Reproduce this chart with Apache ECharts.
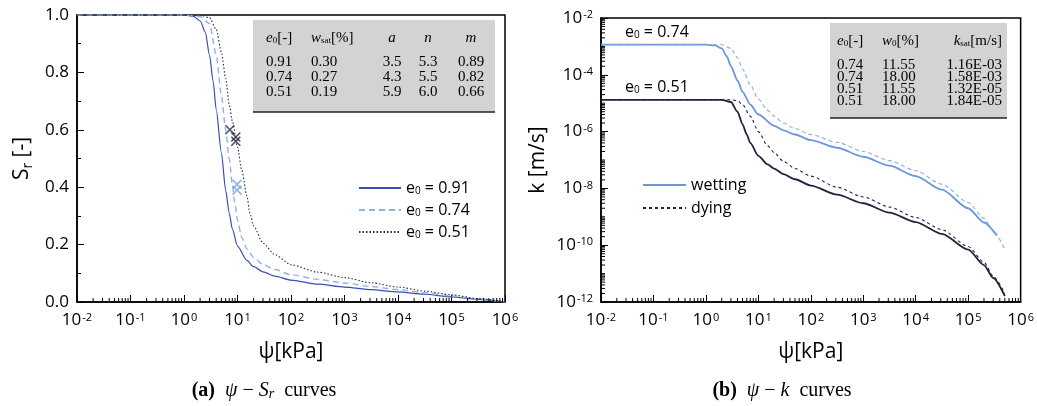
<!DOCTYPE html>
<html><head><meta charset="utf-8">
<script src="https://cdn.jsdelivr.net/npm/echarts@6/dist/echarts.min.js"></script>
<style>html,body{margin:0;padding:0;background:#fff}#c{width:1037px;height:406px}</style>
</head><body><div id="c"></div>
<script>
// ---------- data ----------
const srNames = ['e0 = 0.91', 'e0 = 0.74', 'e0 = 0.51'];
const sr091 = [[0.01,1],[1,1],[1.5,0.995],[2,0.98],[2.5,0.94],[3,0.86],[3.5,0.77],[4,0.67],[5,0.52],[6,0.39],[7,0.31],[8,0.255],[10,0.195],[15,0.145],[20,0.123],[30,0.105],[50,0.09],[100,0.076],[316,0.062],[1000,0.052],[3162,0.043],[1e4,0.035],[3.16e4,0.027],[1e5,0.018],[3.16e5,0.009],[1e6,0]];
const sr074 = [[0.01,1],[1,1],[2,0.995],[3,0.97],[4,0.86],[5,0.72],[6,0.6],[7,0.5],[8,0.41],[9,0.34],[10,0.285],[12,0.225],[15,0.185],[20,0.155],[30,0.13],[50,0.113],[100,0.095],[316,0.079],[1000,0.066],[3162,0.054],[1e4,0.043],[3.16e4,0.032],[1e5,0.021],[3.16e5,0.01],[1e6,0]];
const sr051 = [[0.01,1],[2,1],[3,0.99],[4,0.95],[5,0.87],[6,0.78],[7,0.69],[8,0.63],[10,0.54],[12,0.46],[15,0.37],[17,0.31],[20,0.265],[30,0.205],[50,0.165],[100,0.13],[316,0.104],[1000,0.085],[3162,0.067],[1e4,0.052],[3.16e4,0.038],[1e5,0.025],[3.16e5,0.012],[1e6,0]];
const markDark = [[7.2,0.6],[9.3,0.575],[9.3,0.56]];
const markLight = [[9.8,0.41],[9.8,0.39]];

const kNames = ['wetting', 'dying'];
const kWet074 = [[0.01,1.15e-3],[1,1.15e-3],[1.5,1.08e-3],[2,8.5e-4],[2.5,4.5e-4],[3,2.0e-4],[4,6.3e-5],[5,2.5e-5],[7,9.0e-6],[10,4.0e-6],[20,1.6e-6],[30,1.1e-6],[50,7.9e-7],[100,5.0e-7],[316,2.7e-7],[1000,1.3e-7],[3162,6.3e-8],[1e4,2.7e-8],[3.16e4,9.0e-9],[1e5,2.0e-9],[2e5,6.3e-10],[3.5e5,2.2e-10]];
const kDry074 = [[0.01,1.15e-3],[2,1.15e-3],[3,8.5e-4],[4,4.0e-4],[5,1.6e-4],[7,4.5e-5],[10,1.4e-5],[15,5.6e-6],[20,3.5e-6],[30,2.0e-6],[50,1.26e-6],[100,7.9e-7],[316,4.2e-7],[1000,2.0e-7],[3162,9.5e-8],[1e4,4.2e-8],[3.16e4,1.4e-8],[1e5,3.2e-9],[2e5,8.9e-10],[3e5,3.2e-10],[5e5,7.0e-11]];
const kWet051 = [[0.01,1.32e-5],[2,1.32e-5],[3,1.1e-5],[4,5.0e-6],[5,1.8e-6],[6,7.9e-7],[7,4.0e-7],[10,1.4e-7],[15,7.0e-8],[20,5.0e-8],[30,3.2e-8],[50,2.1e-8],[100,1.26e-8],[316,6.0e-9],[1000,3.0e-9],[3162,1.4e-9],[1e4,6.5e-10],[3.16e4,2.5e-10],[1e5,7.0e-11],[2e5,2.0e-11],[3e5,7.0e-12],[5e5,1.6e-12]];
const kDry051 = [[0.01,1.32e-5],[3,1.32e-5],[4,1.22e-5],[5,9.0e-6],[7,3.5e-6],[10,1.0e-6],[15,3.2e-7],[20,1.8e-7],[30,9.0e-8],[50,5.0e-8],[100,2.7e-8],[316,1.1e-8],[1000,5.0e-9],[3162,2.2e-9],[1e4,9.5e-10],[3.16e4,3.5e-10],[1e5,9.0e-11],[2e5,2.5e-11],[3e5,8.0e-12],[5e5,2.0e-12]];

const tabA_e0 = ['0.91','0.74','0.51'];
const tabA_wsat = ['0.30','0.27','0.19'];
const tabA_a = ['3.5','4.3','5.9'];
const tabA_n = ['5.3','5.5','6.0'];
const tabA_m = ['0.89','0.82','0.66'];
const tabB_e0 = ['0.74','0.74','0.51','0.51'];
const tabB_w0 = ['11.55','18.00','11.55','18.00'];
const tabB_ksat = ['1.16E-03','1.58E-03','1.32E-05','1.84E-05'];

// ---------- helpers ----------
const SANS = '"Open Sans", "DejaVu Sans", sans-serif';
const SERIF = '"Liberation Serif", "DejaVu Serif", serif';
function decadeMinor(k0, k1) { const r = []; for (let k = k0; k <= k1; k++) for (let m = 2; m <= 9; m++) r.push(m * Math.pow(10, k)); return r; }
function powLabel(v) { const e = Math.round(Math.log10(v)); return '10{sup|' + e + '}'; }
const supRich = { sup: { fontSize: 11, fontFamily: SANS, color: '#000', verticalAlign: 'top', lineHeight: 12, padding: [0, 0, 8, 1] } };
function tickSeries(xi, yi, vals, dir, base) {
  return {
    type: 'custom', xAxisIndex: xi, yAxisIndex: yi, silent: true, clip: false, z: 5,
    data: vals.map(v => dir === 'x' ? [v, base] : [base, v]),
    renderItem: function (params, api) {
      const p = api.coord([api.value(0), api.value(1)]);
      const shape = dir === 'x' ? { x1: p[0], y1: p[1], x2: p[0], y2: p[1] - 4 } : { x1: p[0], y1: p[1], x2: p[0] + 4, y2: p[1] };
      return { type: 'line', shape: shape, style: { stroke: '#000', lineWidth: 1 } };
    }
  };
}
const xMinor = decadeMinor(-2, 5);
const yMinorK = decadeMinor(-12, -3).concat([1e-11,1e-9,1e-7,1e-5,1e-3]);
const Xpath = 'path://M0,0L10,10M10,0L0,10';

const baseX = {
  type: 'log', logBase: 10, min: 0.01, max: 1e6, interval: 1,
  axisLine: { onZero: false, lineStyle: { color: '#000', width: 1.5 } },
  axisTick: { inside: true, length: 7, lineStyle: { color: '#000' } },
  splitLine: { show: false },
  axisLabel: { formatter: powLabel, color: '#000', fontSize: 17, fontFamily: SANS, margin: 10, rich: supRich },
  name: 'ψ[kPa]', nameLocation: 'middle', nameGap: 40,
  nameTextStyle: { fontSize: 21, fontFamily: SANS, color: '#000' }
};
function lineS(name, xi, data, color, width, type) {
  return { name: name, type: 'line', xAxisIndex: xi, yAxisIndex: xi, data: data, showSymbol: false, symbol: 'none',
    smooth: 0.25, smoothMonotone: 'x',
    lineStyle: { color: color, width: width, type: type || 'solid' }, itemStyle: { color: color } };
}

const chart = echarts.init(document.getElementById('c'));
const option = {
  animation: false,
  backgroundColor: '#fff',
  grid: [
    { left: 77, right: 532, top: 15, bottom: 104, show: true, borderColor: '#000', borderWidth: 1.5, backgroundColor: 'transparent' },
    { left: 601, right: 12, top: 18, bottom: 104, show: true, borderColor: '#000', borderWidth: 1.5, backgroundColor: 'transparent' }
  ],
  xAxis: [Object.assign({ gridIndex: 0 }, baseX), Object.assign({ gridIndex: 1 }, baseX)],
  yAxis: [
    { gridIndex: 0, type: 'value', min: 0, max: 1, interval: 0.2,
      axisLine: { show: true, lineStyle: { color: '#000', width: 1.5 } },
      axisTick: { inside: true, length: 7, lineStyle: { color: '#000' } },
      minorTick: { show: true, splitNumber: 2, length: 4, lineStyle: { color: '#000' } },
      splitLine: { show: false },
      axisLabel: { formatter: v => v.toFixed(1), color: '#000', fontSize: 17, fontFamily: SANS, margin: 8 },
      name: '{n|S}{s|r}{n| [-]}', nameLocation: 'middle', nameGap: 42, nameRotate: 90,
      nameTextStyle: { rich: { n: { fontSize: 21, fontFamily: SANS, color: '#000', lineHeight: 26 }, s: { fontSize: 14, fontFamily: SANS, color: '#000', verticalAlign: 'bottom', lineHeight: 14 } } } },
    { gridIndex: 1, type: 'log', logBase: 10, min: 1e-12, max: 1e-2, interval: 2,
      axisLine: { show: true, onZero: false, lineStyle: { color: '#000', width: 1.5 } },
      axisTick: { inside: true, length: 7, lineStyle: { color: '#000' } },
      splitLine: { show: false },
      axisLabel: { formatter: powLabel, color: '#000', fontSize: 17, fontFamily: SANS, margin: 8, rich: supRich },
      name: 'k [m/s]', nameLocation: 'middle', nameGap: 52, nameRotate: 90,
      nameTextStyle: { fontSize: 21, fontFamily: SANS, color: '#000' } }
  ],
  legend: [
    { data: srNames, left: 353, top: 175, orient: 'vertical', itemWidth: 42, itemHeight: 12, itemGap: 6,
      itemStyle: { opacity: 0 },
      formatter: n => n.replace('e0', 'e{sub|0}'),
      textStyle: { fontSize: 16, fontFamily: SANS, color: '#000', rich: { sub: { fontSize: 10, fontFamily: SANS, verticalAlign: 'bottom', lineHeight: 10, padding: [6, 0, 0, 0] } } } },
    { data: kNames, left: 637, top: 172, orient: 'vertical', itemWidth: 43, itemHeight: 12, itemGap: 7,
      itemStyle: { opacity: 0 },
      textStyle: { fontSize: 16, fontFamily: SANS, color: '#000' } }
  ],
  series: [
    lineS(srNames[0], 0, sr091, '#3a4cb4', 1.2),
    lineS(srNames[1], 0, sr074, '#8fb1e6', 1.4, [6, 4]),
    lineS(srNames[2], 0, sr051, '#2a2a3a', 1.1, [1.5, 2]),
    { name: 'mark dark', type: 'scatter', xAxisIndex: 0, yAxisIndex: 0, data: markDark, symbol: Xpath, symbolSize: 9,
      itemStyle: { color: 'transparent', borderColor: '#23223f', borderWidth: 1.6 } },
    { name: 'mark light', type: 'scatter', xAxisIndex: 0, yAxisIndex: 0, data: markLight, symbol: Xpath, symbolSize: 9,
      itemStyle: { color: 'transparent', borderColor: '#7ba3e0', borderWidth: 1.6 } },

    lineS(kNames[0], 1, kWet074, '#6d96d9', 1.8),
    lineS('dying 0.74', 1, kDry074, '#86abe6', 1.1, [4, 3]),
    lineS('wetting 0.51', 1, kWet051, '#23223f', 1.8),
    lineS(kNames[1], 1, kDry051, '#23223f', 1.1, [3, 3]),

    tickSeries(0, 0, xMinor, 'x', 0),
    tickSeries(1, 1, xMinor, 'x', 1e-12),
    tickSeries(1, 1, yMinorK, 'y', 0.01)
  ],
  graphic: []
};

// tables
const G = option.graphic;
const richT = {
  i: { fontStyle: 'italic', fontFamily: SERIF, fontSize: 15 },
  s: { fontFamily: SERIF, fontSize: 9, verticalAlign: 'bottom', lineHeight: 9, padding: [5, 0, 0, 0] }
};
function txt(x, y, t, align, extra) {
  G.push({ type: 'text', x: x, y: y, z: 20, style: Object.assign({ text: t, fontFamily: SERIF, fontSize: 15, fill: '#000', align: align || 'left', verticalAlign: 'middle', rich: richT }, extra || {}) });
}
// table a
G.push({ type: 'rect', shape: { x: 253, y: 20, width: 242, height: 92 }, style: { fill: '#d3d3d3' }, z: 10 });
G.push({ type: 'line', shape: { x1: 253, y1: 112, x2: 495, y2: 112 }, style: { stroke: '#222', lineWidth: 1.5 }, z: 11 });
txt(266, 38, '{i|e}{s|0}[-]');
txt(311, 38, '{i|w}{s|sat}[%]');
txt(392, 38, 'a', 'center', { fontStyle: 'italic' });
txt(428, 38, 'n', 'center', { fontStyle: 'italic' });
txt(471, 38, 'm', 'center', { fontStyle: 'italic' });
for (let i = 0; i < 3; i++) {
  const y = 62 + i * 15;
  txt(266, y, tabA_e0[i]); txt(311, y, tabA_wsat[i]);
  txt(392, y, tabA_a[i], 'center'); txt(428, y, tabA_n[i], 'center'); txt(471, y, tabA_m[i], 'center');
}
// table b
G.push({ type: 'rect', shape: { x: 830, y: 23, width: 177, height: 95 }, style: { fill: '#d3d3d3' }, z: 10 });
G.push({ type: 'line', shape: { x1: 830, y1: 118, x2: 1007, y2: 118 }, style: { stroke: '#222', lineWidth: 1.5 }, z: 11 });
txt(837, 41, '{i|e}{s|0}[-]');
txt(882, 41, '{i|w}{s|0}[%]');
txt(1002, 41, '{i|k}{s|sat}[m/s]', 'right');
for (let i = 0; i < 4; i++) {
  const y = 65 + i * 12;
  txt(837, y, tabB_e0[i]); txt(882, y, tabB_w0[i]); txt(1002, y, tabB_ksat[i], 'right');
}
// annotations in (b)
const annRich = { n: { fontSize: 16, fontFamily: SANS, fill: '#000' }, s: { fontSize: 10, fontFamily: SANS, verticalAlign: 'bottom', lineHeight: 10, padding: [6, 0, 0, 0] } };
G.push({ type: 'text', x: 625, y: 32, z: 20, style: { text: '{n|e}{s|0}{n| = 0.74}', rich: annRich, verticalAlign: 'middle', fill: '#000' } });
G.push({ type: 'text', x: 625, y: 87, z: 20, style: { text: '{n|e}{s|0}{n| = 0.51}', rich: annRich, verticalAlign: 'middle', fill: '#000' } });
// captions
const capRich = {
  b: { fontSize: 20, fontFamily: SERIF, fontWeight: 'bold' },
  i: { fontSize: 20, fontFamily: SERIF, fontStyle: 'italic' },
  n: { fontSize: 20, fontFamily: SERIF },
  s: { fontSize: 14, fontFamily: SERIF, fontStyle: 'italic', verticalAlign: 'bottom', lineHeight: 14, padding: [8, 0, 0, 0] }
};
G.push({ type: 'text', x: 264, y: 391, z: 20, style: { text: '{b|(a)}{n|  }{i|ψ}{n| − }{i|S}{s|r}{n|  curves}', rich: capRich, align: 'center', verticalAlign: 'middle', fill: '#000' } });
G.push({ type: 'text', x: 782, y: 391, z: 20, style: { text: '{b|(b)}{n|  }{i|ψ}{n| − }{i|k}{n|  curves}', rich: capRich, align: 'center', verticalAlign: 'middle', fill: '#000' } });

chart.setOption(option);
</script>
</body></html>
